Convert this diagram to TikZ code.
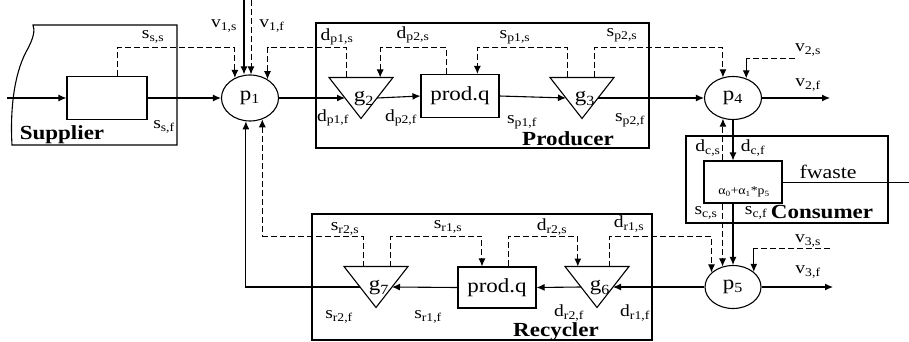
\documentclass[tikz,border=0pt]{standalone}
\usepackage{fontspec}
\setmainfont[FakeStretch=1.15]{Liberation Serif}
\usetikzlibrary{arrows.meta,calc,shapes.geometric}
\newcommand{\vsub}[2]{#1\textsubscript{#2}}

\begin{document}
\begin{tikzpicture}[x=1pt,y=-1pt,
  font=\fontsize{17}{19}\selectfont,
  region/.style={rectangle,draw,line width=1.1pt,inner sep=0pt},
  blk/.style={rectangle,draw,line width=1.1pt,inner sep=0pt,font=\fontsize{20}{22}\selectfont},
  pnode/.style={ellipse,draw,line width=1.1pt,inner sep=0pt,font=\fontsize{20}{22}\selectfont},
  gate/.style={draw,line width=1.1pt},
  glbl/.style={inner sep=0pt,font=\fontsize{20}{22}\selectfont},
  tag/.style={inner sep=0pt},
  head/.style={inner sep=0pt,font=\fontsize{20}{22}\selectfont\bfseries},
  flow/.style={-{Latex[length=8pt,width=7pt]},line width=1.1pt},
  sig/.style={-{Latex[length=8pt,width=7pt]},line width=1pt,dash pattern=on 6pt off 3pt},
  dline/.style={line width=1pt,dash pattern=on 6pt off 3pt}
]
\useasboundingbox (0,0) rectangle (909,342);

\draw[line width=1.1pt] (12,145) .. controls (10,110) and (14,75) .. (26,52) .. controls (34,38) and (35,30) .. (33,25) -- (177,25) -- (177,145) -- cycle;
\node[region,minimum width=333,minimum height=125] (producer) at (482.5,85.5) {};
\node[region,minimum width=202,minimum height=87] (consumer) at (787,179.5) {};
\node[region,minimum width=340,minimum height=126] (recycler) at (482,277) {};

\node[blk,minimum width=80,minimum height=43] (sbox) at (107,98) {};
\node[blk,minimum width=78,minimum height=43] (pprod) at (460,96) {prod.q};
\node[blk,minimum width=78,minimum height=42] (cbox) at (743,182) {};
\node[tag,font=\fontsize{12}{14}\selectfont] (alpha) at (744,192) {\vsub{α}{0}+\vsub{α}{1}*\vsub{p}{5}};
\node[blk,minimum width=78,minimum height=41] (rprod) at (497,287.5) {prod.q};

\node[pnode,minimum width=57,minimum height=46] (p1) at (250,98) {\vsub{p}{1}};
\node[pnode,minimum width=57,minimum height=43] (p4) at (733,98) {\vsub{p}{4}};
\node[pnode,minimum width=56,minimum height=43] (p5) at (733,287) {\vsub{p}{5}};

\foreach \g/\n/\x/\y in {g2/2/361/98, g3/3/582/98, g6/6/597/287, g7/7/376/287}{
  \coordinate (\g) at (\x,\y);
  \draw[gate] (\g) ++(-32,-20.5) coordinate (\g-tl) -- ++(64,0) coordinate (\g-tr) -- ++(-32,41) coordinate (\g-b) -- cycle;
  \coordinate (\g-w) at ($(\g-tl)!.5!(\g-b)$);
  \coordinate (\g-e) at ($(\g-tr)!.5!(\g-b)$);
  \node[glbl] (\g-l) at ([xshift=3,yshift=-1]\g) {\vsub{g}{\n}};
}

\coordinate (railp) at (0,48);
\coordinate (railr) at (0,236);

\coordinate (sin) at (7,98);
\draw[flow] (sin) -- (sbox.west);
\draw[flow] (sbox.east) -- (p1.west);
\draw[sig] ([xshift=10]sbox.north) -- ([xshift=10]sbox.north |- railp) -| (p1.127);
\coordinate (v1s) at (244,0);
\coordinate (v1f) at (251,0);
\draw[flow] (v1s) -- (v1s |- p1.north);
\draw[sig] (v1f) -- (v1f |- p1.north);

\draw[flow] (p1.east) -- (g2-w);
\draw[flow] (g2-e) -- (pprod.west);
\draw[flow] (pprod.east) -- (g3-w);
\draw[flow] (g3-e) -- (p4.west);
\coordinate (dp1s) at ($(g2-tl)!.28!(g2-tr)$);
\draw[sig] (dp1s) -- (dp1s |- railp) -| (p1.47);
\coordinate (dp2s) at ($(pprod.north west)!.33!(pprod.north east)$);
\draw[sig] (dp2s) -- (dp2s |- railp) -| ($(g2-tl)!.8!(g2-tr)$);
\coordinate (sp1s) at ($(g3-tl)!.28!(g3-tr)$);
\draw[sig] (sp1s) -- (sp1s |- railp) -| ($(pprod.north west)!.72!(pprod.north east)$);
\coordinate (sp2s) at ($(g3-tl)!.7!(g3-tr)$);
\draw[sig] (sp2s) -- (sp2s |- railp) -| (p4.116);
\coordinate (v2s) at (795,59);
\draw[dline] (v2s) -- (v2s -| p4.56);
\draw[flow] (v2s -| p4.56) -- (p4.56);
\coordinate (v2f) at (830,98);
\draw[flow] (p4.east) -- (v2f);

\draw[flow] (p4.south) -- (p4.south |- cbox.north);
\draw[sig] (p4.-116 |- cbox.north) -- (p4.-116);
\draw[sig] (p5.117 |- cbox.south) -- (p5.117);
\draw[flow] (p5.north |- cbox.south) -- (p5.north);
\coordinate (fw) at (909,182);
\draw[line width=1pt] (cbox.east) -- (fw);

\draw[flow] (p5.west |- g6-e) -- (g6-e);
\draw[flow] (g6-w) -- (rprod.east);
\draw[flow] (rprod.west) -- (g7-e);
\draw[flow] (g7-w) -| (p1.-100);
\coordinate (sr2s) at ($(g7-tl)!.3!(g7-tr)$);
\draw[sig] (sr2s) -- (sr2s |- railr) -| (p1.-60);
\coordinate (sr1s) at ($(g7-tl)!.73!(g7-tr)$);
\draw[sig] (sr1s) -- (sr1s |- railr) -| ($(rprod.north west)!.31!(rprod.north east)$);
\coordinate (dr2s) at ($(rprod.north west)!.65!(rprod.north east)$);
\draw[sig] (dr2s) -- (dr2s |- railr) -| ($(g6-tl)!.2!(g6-tr)$);
\coordinate (dr1s) at ($(g6-tl)!.7!(g6-tr)$);
\draw[sig] (dr1s) -- (dr1s |- railr) -| (p5.146);
\coordinate (v3s) at (830,248);
\draw[dline] (v3s) -- (v3s -| p5.36);
\draw[flow] (v3s -| p5.36) -- (p5.36);
\coordinate (v3f) at (833,287);
\draw[flow] (p5.east) -- (v3f);

\node[head] (tsup) at (62,135) {Supplier};
\node[head] (tpro) at (568,139) {Producer};
\node[head] (tcon) at (822,212) {Consumer};
\node[head] (trec) at (556,332) {Recycler};

\node[tag] (tss) at (153,37) {\vsub{s}{s,s}};
\node[tag] (tsf) at (164,127) {\vsub{s}{s,f}};
\node[tag] (tv1s) at (224,26) {\vsub{v}{1,s}};
\node[tag] (tv1f) at (272,26) {\vsub{v}{1,f}};
\node[tag] (tdp1s) at (337,37) {\vsub{d}{p1,s}};
\node[tag] (tdp2s) at (413,35) {\vsub{d}{p2,s}};
\node[tag] (tsp1s) at (515,37) {\vsub{s}{p1,s}};
\node[tag] (tsp2s) at (622,35) {\vsub{s}{p2,s}};
\node[tag] (tdp1f) at (333,118) {\vsub{d}{p1,f}};
\node[tag] (tdp2f) at (401,118) {\vsub{d}{p2,f}};
\node[tag] (tsp1f) at (522,122) {\vsub{s}{p1,f}};
\node[tag] (tsp2f) at (630,120) {\vsub{s}{p2,f}};
\node[tag] (tv2s) at (808,50) {\vsub{v}{2,s}};
\node[tag] (tv2f) at (808,85) {\vsub{v}{2,f}};
\node[tag] (tdcs) at (708,148) {\vsub{d}{c,s}};
\node[tag] (tdcf) at (753,148) {\vsub{d}{c,f}};
\node[tag,font=\fontsize{19}{21}\selectfont] (tfw) at (828,172) {fwaste};
\node[tag] (tscs) at (706,213) {\vsub{s}{c,s}};
\node[tag] (tscf) at (756,213) {\vsub{s}{c,f}};
\node[tag] (tv3s) at (808,241) {\vsub{v}{3,s}};
\node[tag] (tv3f) at (808,272) {\vsub{v}{3,f}};
\node[tag] (tsr2s) at (345,229) {\vsub{s}{r2,s}};
\node[tag] (tsr1s) at (448,227) {\vsub{s}{r1,s}};
\node[tag] (tdr2s) at (552,227) {\vsub{d}{r2,s}};
\node[tag] (tdr1s) at (629,224) {\vsub{d}{r1,s}};
\node[tag] (tsr2f) at (339,317) {\vsub{s}{r2,f}};
\node[tag] (tsr1f) at (428,317) {\vsub{s}{r1,f}};
\node[tag] (tdr2f) at (569,313) {\vsub{d}{r2,f}};
\node[tag] (tdr1f) at (635,313) {\vsub{d}{r1,f}};
\end{tikzpicture}
\end{document}
